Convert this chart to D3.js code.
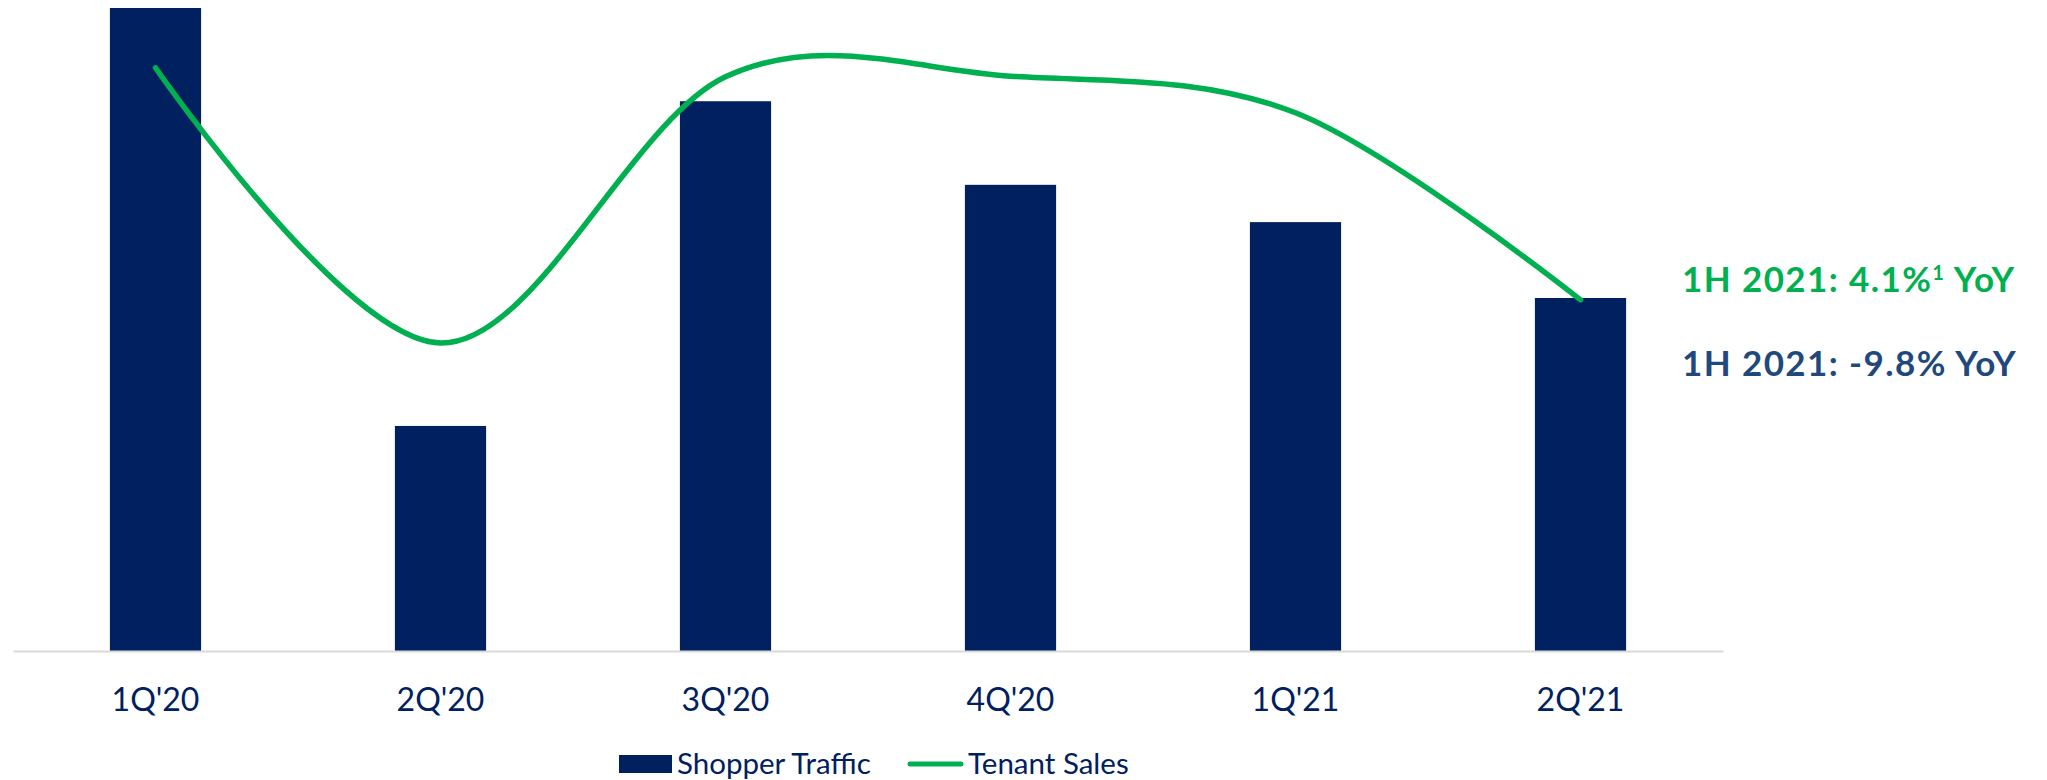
<!DOCTYPE html>
<html lang="en">
<head>
<meta charset="utf-8">
<title>trafficSales</title>
<script src="https://cdn.jsdelivr.net/npm/d3@7/dist/d3.min.js"></script>
<style>
    body { margin: 0; background: #fff; }
    .tick text { font-family: Lato, sans-serif; }
</style>
</head>
<body>
<svg id="chart" width="2047" height="780"></svg>
<script>

    // values (index, 1Q'20 traffic = 100)
    let quarters = ["1Q'20", "2Q'20", "3Q'20", "4Q'20", "1Q'21", "2Q'21"];
    let shopperTraffic = [100, 35.0, 85.5, 72.5, 66.7, 54.9];
    let tenantSales = [90.7, 47.9, 89.3, 89.4, 83.7, 54.6];
    let seriesNames = ["Shopper Traffic", "Tenant Sales"];
    let notes = [
        {text: "1H 2021: 4.1%", sup: "1", tail: " YoY", color: "#00b050"},
        {text: "1H 2021: -9.8% YoY", sup: "", tail: "", color: "#1f497d"}
    ];

    let w = 2047, h = 780;
    let baseY = 651;
    let navy = "#002060", green = "#00b050";

    let svg = d3.select("#chart");

    let x = d3.scaleBand()
        .domain(quarters)
        .range([13, 1723])
        .paddingInner(0.68)
        .paddingOuter(0.34);

    let y = d3.scaleLinear()
        .domain([0, 100])
        .range([baseY, 8]);

    // bars
    svg.append("g").selectAll("rect")
        .data(quarters)
        .join("rect")
        .attr("x", d => x(d))
        .attr("width", x.bandwidth())
        .attr("y", (d, i) => y(shopperTraffic[i]))
        .attr("height", (d, i) => baseY - y(shopperTraffic[i]))
        .attr("fill", navy);

    // category axis
    let xAxis = svg.append("g")
        .attr("transform", "translate(0," + baseY + ")")
        .call(d3.axisBottom(x).tickSize(0).tickPadding(37));
    xAxis.select(".domain")
        .attr("stroke", "#d9d9d9")
        .attr("stroke-width", 2);
    xAxis.selectAll(".tick text")
        .attr("fill", navy)
        .style("font-size", "32px");

    // tenant sales line, smoothed like the spreadsheet original
    let line = d3.line()
        .x((d, i) => x(quarters[i]) + x.bandwidth() / 2)
        .y(d => y(d))
        .curve(d3.curveCardinal.tension(0));

    svg.append("path")
        .datum(tenantSales)
        .attr("d", line)
        .attr("fill", "none")
        .attr("stroke", green)
        .attr("stroke-width", 5.5)
        .attr("stroke-linecap", "round");

    // right-hand notes
    notes.forEach((n, i) => {
        let t = svg.append("text")
            .attr("x", 1682)
            .attr("y", 292 + i * 84)
            .attr("fill", n.color)
            .style("font-family", "Lato, sans-serif")
            .style("font-weight", "bold")
            .style("font-size", "35px")
            .style("letter-spacing", "1.4px")
            .text(n.text);
        if (n.sup) {
            t.append("tspan").attr("dy", -12).style("font-size", "20px").text(n.sup);
            t.append("tspan").attr("dy", 12).text(n.tail);
        }
    });

    // legend
    let legend = svg.append("g").style("font-family", "Lato, sans-serif").style("font-size", "29.5px");
    legend.append("rect")
        .attr("x", 619).attr("y", 755)
        .attr("width", 53).attr("height", 18)
        .attr("fill", navy);
    legend.append("text")
        .attr("x", 677).attr("y", 774)
        .attr("fill", navy)
        .text(seriesNames[0]);
    legend.append("line")
        .attr("x1", 910).attr("x2", 961)
        .attr("y1", 764).attr("y2", 764)
        .attr("stroke", green)
        .attr("stroke-width", 5)
        .attr("stroke-linecap", "round");
    legend.append("text")
        .attr("x", 968).attr("y", 774)
        .attr("fill", navy)
        .text(seriesNames[1]);

</script>
</body>
</html>
